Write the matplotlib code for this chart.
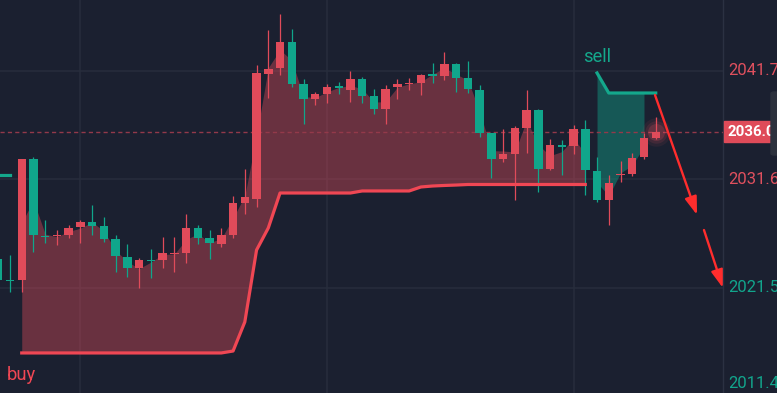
import matplotlib
matplotlib.use("Agg")
import matplotlib.pyplot as plt
import numpy as np
from matplotlib.patches import Rectangle, FancyBboxPatch

plt.rcParams['font.family'] = ['Roboto', 'DejaVu Sans']

# ---------------- data ----------------
bars = list(range(-1, 56))
opens = [2024.19, 2022.15, 2022.24, 2033.48, 2026.33, 2026.28, 2026.42, 2027.16, 2027.58, 2027.21,
         2026.05, 2024.37, 2023.31, 2024.10, 2024.10, 2024.65, 2024.70, 2027.07, 2026.14, 2025.58,
         2026.42, 2029.39, 2029.76, 2041.38, 2041.93, 2044.35, 2040.45, 2039.05, 2039.52, 2040.26,
         2039.89, 2040.91, 2039.33, 2038.12, 2040.17, 2040.45, 2040.54, 2041.33, 2041.19, 2042.30,
         2041.00, 2039.89, 2035.89, 2033.48, 2033.94, 2036.36, 2038.03, 2032.55, 2034.78, 2034.69,
         2036.27, 2032.36, 2029.67, 2031.99, 2032.09, 2033.66, 2035.43]
highs = [2024.37, 2024.56, 2033.52, 2033.66, 2027.81, 2026.88, 2027.35, 2027.81, 2029.21, 2028.09,
         2026.42, 2025.58, 2024.28, 2025.12, 2026.23, 2026.23, 2028.37, 2027.35, 2026.88, 2027.07,
         2030.04, 2032.55, 2042.21, 2045.46, 2046.95, 2045.56, 2040.91, 2039.66, 2040.45, 2040.63,
         2041.65, 2041.10, 2039.98, 2040.35, 2040.91, 2041.00, 2041.38, 2042.40, 2043.42, 2042.40,
         2042.58, 2040.35, 2035.94, 2036.27, 2036.54, 2039.89, 2038.12, 2035.34, 2035.24, 2036.64,
         2037.10, 2033.66, 2031.99, 2033.29, 2034.04, 2035.89, 2037.38]
lows = [2022.05, 2021.12, 2021.12, 2024.84, 2025.68, 2025.49, 2026.14, 2025.68, 2026.42, 2025.77,
        2022.98, 2022.52, 2021.49, 2022.42, 2023.35, 2022.98, 2023.82, 2025.58, 2024.19, 2025.30,
        2026.14, 2028.37, 2029.02, 2039.15, 2041.28, 2040.17, 2036.73, 2038.50, 2038.68, 2039.52,
        2038.77, 2038.68, 2037.66, 2036.73, 2039.05, 2039.89, 2039.42, 2040.54, 2040.82, 2039.70,
        2039.61, 2035.52, 2031.71, 2033.20, 2029.67, 2034.04, 2030.41, 2032.50, 2031.99, 2033.94,
        2030.13, 2029.48, 2027.35, 2031.34, 2031.90, 2033.48, 2035.34]
closes = [2022.24, 2022.10, 2033.48, 2026.42, 2026.19, 2026.37, 2027.07, 2027.58, 2027.25, 2026.05,
          2024.47, 2023.31, 2024.10, 2023.96, 2024.75, 2024.75, 2027.07, 2026.14, 2025.63, 2026.42,
          2029.39, 2029.95, 2041.47, 2041.84, 2044.35, 2040.45, 2039.05, 2039.52, 2040.17, 2040.12,
          2040.91, 2039.29, 2038.12, 2039.98, 2040.45, 2040.54, 2041.28, 2041.19, 2042.30, 2041.05,
          2039.98, 2035.94, 2033.48, 2033.94, 2036.36, 2038.03, 2032.55, 2034.78, 2034.64, 2036.27,
          2032.46, 2029.67, 2031.25, 2032.09, 2033.57, 2035.43, 2036.00]

long_bars = list(range(1, 50))
long_stop = [2015.46, 2015.46, 2015.46, 2015.46, 2015.46, 2015.46, 2015.46, 2015.46, 2015.46,
             2015.46, 2015.46, 2015.46, 2015.46, 2015.46, 2015.46, 2015.46, 2015.46, 2015.46,
             2015.64, 2018.34, 2025.02, 2027.07,
             2030.32, 2030.32, 2030.32, 2030.32, 2030.32, 2030.32, 2030.32,
             2030.51, 2030.51, 2030.51, 2030.51, 2030.51,
             2030.88, 2030.97, 2031.02, 2031.06,
             2031.11, 2031.11, 2031.11, 2031.11, 2031.11, 2031.11, 2031.11, 2031.11, 2031.11,
             2031.11, 2031.11]
short_bars_left = [-1, 0]
short_stop_left = [2031.95, 2031.95]
short_bars = [50, 51, 52, 53, 54, 55]
short_stop = [2041.47, 2039.61, 2039.61, 2039.61, 2039.61, 2039.61]
short_fill_end = 54

last_price = 2036.00
price_ticks = [2011.46, 2021.54, 2031.62, 2041.70]
tick_colors = ['#12a58c', '#12a58c', '#e0505e', '#e0505e']
vgrid_bars = [6, 27, 48]
buy_bar, sell_bar = 1, 50

# ---------------- style ----------------
BG = '#1b2030'
GRID = '#272d3c'
RED = '#e04b5a'
TEAL = '#10a68b'
RED_LINE = '#f04754'
TEAL_LINE = '#14a88c'
ARROW = '#ff2d2d'

W, H = 777, 393
fig = plt.figure(figsize=(W / 100, H / 100), dpi=100, facecolor=BG)
ax = fig.add_axes([0, 0, 723 / W, 1])
axr = fig.add_axes([723 / W, 0, 54 / W, 1], sharey=ax)
for a in (ax, axr):
    a.set_facecolor(BG)
    for s in a.spines.values():
        s.set_visible(False)
    a.tick_params(left=False, bottom=False, labelleft=False, labelbottom=False,
                  right=False, labelright=False)

ax.set_xlim(-0.852, 60.73)
ax.set_ylim(2011.74, 2048.25)
axr.set_xlim(0, 1)
axr.spines['left'].set_visible(True)
axr.spines['left'].set_color('#2b3142')
axr.spines['left'].set_linewidth(1)

# grid
for p in price_ticks:
    ax.axhline(p, color=GRID, lw=1.1, zorder=0)
for b in vgrid_bars:
    ax.axvline(b, color=GRID, lw=1.1, zorder=0)

x = np.array(bars, dtype=float)
o = np.array(opens); h = np.array(highs); l = np.array(lows); c = np.array(closes)
ohlc4 = (o + h + l + c) / 4.0
idx = {b: i for i, b in enumerate(bars)}

# fills (Chandelier-style)
lb = np.array(long_bars, dtype=float)
l4 = np.array([ohlc4[idx[b]] for b in long_bars])
ax.fill_between(lb, l4, long_stop, color=RED, alpha=0.40, lw=0, zorder=1)
sb = [b for b in short_bars if b <= short_fill_end]
s4 = np.array([ohlc4[idx[b]] for b in sb])
ax.fill_between(np.array(sb, dtype=float), s4, short_stop[:len(sb)], color=TEAL, alpha=0.42, lw=0, zorder=1)

# current price dashed line
ax.axhline(last_price, color='#93394a', lw=1.0, ls=(0, (3, 2.3)), zorder=2)

# glow on last bar
for s_, a_ in [(420, 0.07), (260, 0.11), (150, 0.18)]:
    ax.scatter([bars[-1]], [last_price], s=s_, color='#ff5a66', alpha=a_, lw=0, zorder=2.5)

# candles
up = c >= o
cols = np.where(up, RED, TEAL)
ax.vlines(x, l, h, colors=cols, lw=0.9, zorder=3)
body_lo = np.minimum(o, c)
body_h = np.maximum(np.abs(c - o), 0.11)
ax.bar(x, body_h, bottom=body_lo, width=0.72, color=cols, lw=0, zorder=3.5)

# stop lines
ax.plot(long_bars, long_stop, color=RED_LINE, lw=2.3, solid_joinstyle='round', zorder=4)
ax.plot(short_bars, short_stop, color=TEAL_LINE, lw=2.3, solid_joinstyle='round', zorder=4)
ax.plot(short_bars_left, short_stop_left, color=TEAL_LINE, lw=2.3, zorder=4)

# buy / sell labels
ax.annotate('buy', xy=(buy_bar, long_stop[0]), xytext=(0, -27), textcoords='offset pixels',
            ha='center', va='baseline', color=RED_LINE, fontsize=13.2, zorder=5)
ax.annotate('sell', xy=(sell_bar, short_stop[0]), xytext=(0, 11), textcoords='offset pixels',
            ha='center', va='baseline', color=TEAL_LINE, fontsize=13.2, zorder=5)

# hand-drawn arrows
arrows = [((54.94, 2039.42), (58.52, 2028.28)), ((59.11, 2026.88), (60.73, 2021.49))]
for start, tip in arrows:
    ax.annotate('', xy=tip, xytext=start, annotation_clip=False,
                arrowprops=dict(arrowstyle='-|>,head_length=0.9,head_width=0.3', color=ARROW,
                                lw=1.7, shrinkA=0, shrinkB=0, mutation_scale=12), zorder=6)

# price scale labels
ybot = ax.get_ylim()[0]
for p, col in zip(price_ticks, tick_colors):
    yp = max(p, ybot + 0.9)
    axr.text(0.10, yp, f'{p:.2f}', color=col, fontsize=12, va='center', ha='left', clip_on=False)

# scrollbar-like handle
fig.patches.append(FancyBboxPatch((771 / W, (H - 155) / H), 10 / W, 63 / H,
                                  boxstyle='round,pad=0,rounding_size=0.004',
                                  transform=fig.transFigure, color='#2c313d', zorder=1))

# last price box
axr.add_patch(Rectangle((0.02, last_price - 0.98), 1.2, 1.96, color='#df4b59', zorder=5, clip_on=False))
axr.text(0.08, last_price, f'{last_price:.2f}', color='white', fontsize=10.8, fontweight='bold',
         va='center', ha='left', zorder=6, clip_on=False)

fig.savefig('out.png', dpi=100, facecolor=BG)
